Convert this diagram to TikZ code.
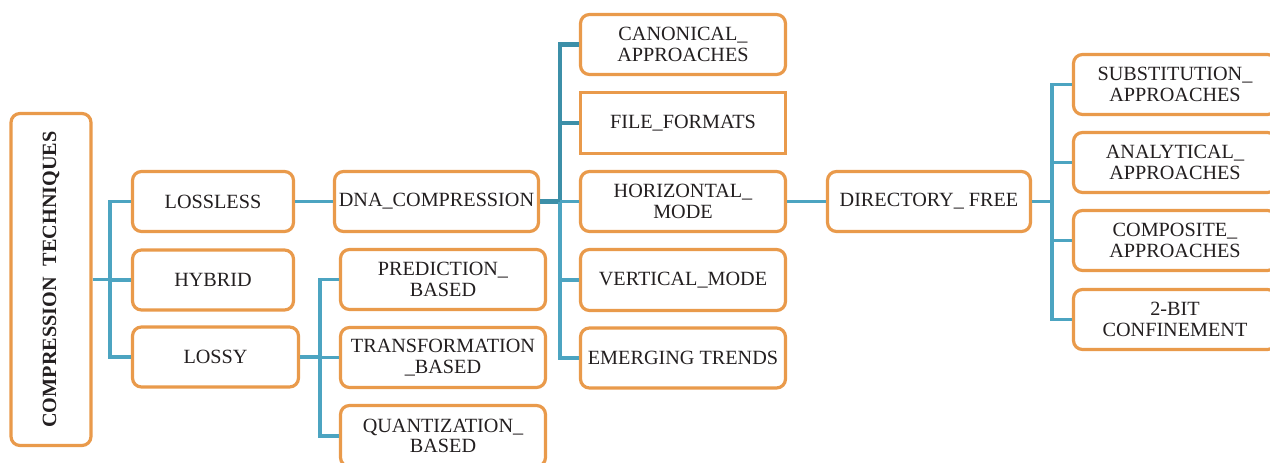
\documentclass[tikz,border=0pt]{standalone}
\usepackage{fontspec}
\setmainfont{Liberation Serif}
\definecolor{boxorange}{RGB}{233,154,75}
\definecolor{connblue}{RGB}{76,164,193}
\definecolor{conndark}{RGB}{60,143,168}
\definecolor{textgray}{RGB}{35,31,32}
\tikzset{
  box/.style={draw=boxorange, line width=3.2pt, rounded corners=9pt, fill=white,
    align=center, font=\fontsize{20.2}{20.5}\selectfont, text=textgray, inner sep=0pt},
  sqbox/.style={box, sharp corners},
  conn/.style={draw=connblue, line width=3.3pt},
  connd/.style={draw=conndark, line width=4.4pt},
}
\begin{document}
\begin{tikzpicture}[x=1pt,y=-1pt]
\useasboundingbox (0,0) rectangle (1270,463);
\coordinate (j1) at (110,280);
\coordinate (j2) at (320,357);
\coordinate (j3) at (560,201.5);
\coordinate (j4) at (1052,201.5);
% nodes
\node[box, rotate=90, minimum width=332pt, minimum height=80pt, font=\fontsize{20.2}{20.5}\selectfont\bfseries] (comp) at (51,279.5) {COMPRESSION\hspace{0.55em}TECHNIQUES};
\node[box, minimum width=161pt, minimum height=60pt] (lossless) at (213,201.5) {LOSSLESS};
\node[box, minimum width=161pt, minimum height=60pt] (hybrid) at (213,280) {HYBRID};
\node[box, minimum width=166pt, minimum height=60pt] (lossy) at (215.5,357) {LOSSY};
\node[box, minimum width=204pt, minimum height=60pt] (dna) at (436.5,201.5) {DNA\_COMPRESSION};
\node[box, minimum width=205pt, minimum height=60pt] (pred) at (443,279.5) {PREDICTION\_\\BASED};
\node[box, minimum width=205pt, minimum height=60pt] (trans) at (443,357.5) {TRANSFORMATION\\\_BASED};
\node[box, minimum width=205pt, minimum height=61pt] (quant) at (443,436) {QUANTIZATION\_\\BASED};
\node[box, minimum width=205pt, minimum height=60pt] (canon) at (683,44.5) {CANONICAL\_\\APPROACHES};
\node[sqbox, minimum width=205pt, minimum height=61pt] (files) at (683,123) {FILE\_FORMATS};
\node[box, minimum width=205pt, minimum height=60pt] (horiz) at (683,201.5) {HORIZONTAL\_\\MODE};
\node[box, minimum width=205pt, minimum height=61pt] (vert) at (683,280) {VERTICAL\_MODE};
\node[box, minimum width=205pt, minimum height=60pt] (emerg) at (683,358) {EMERGING TRENDS};
\node[box, minimum width=203pt, minimum height=60pt] (dir) at (929,201.5) {DIRECTORY\_ FREE};
\node[box, minimum width=203pt, minimum height=60pt] (subst) at (1175,84.5) {SUBSTITUTION\_\\APPROACHES};
\node[box, minimum width=203pt, minimum height=60pt] (analyt) at (1175,162.5) {ANALYTICAL\_\\APPROACHES};
\node[box, minimum width=203pt, minimum height=60pt] (compos) at (1175,240.5) {COMPOSITE\_\\APPROACHES};
\node[box, minimum width=203pt, minimum height=60pt] (bit) at (1175,319.5) {2-BIT\\CONFINEMENT};
% connectors
\draw[conn] (comp.south) -- (comp.south -| j1);
\draw[conn] (lossless.west) -| (j1) |- (lossy.west);
\draw[conn] (hybrid.west) -- (hybrid.west -| j1);
\draw[conn] (lossless) -- (dna);
\draw[conn] (lossy.east) -- (lossy.east -| j2);
\draw[conn] (pred.west) -| (j2) |- (quant.west);
\draw[conn] (trans.west) -- (trans.west -| j2);
\draw[connd] (dna.east) -- (j3);
\draw[connd] (canon.west) -| (j3);
\draw[connd] (files.west) -- (files.west -| j3);
\draw[conn] (j3) -- (horiz.west);
\draw[conn] (j3) |- (emerg.west);
\draw[conn] (vert.west) -- (vert.west -| j3);
\draw[conn] (horiz) -- (dir);
\draw[conn] (dir.east) -- (j4);
\draw[conn] (subst.west) -| (j4) |- (bit.west);
\draw[conn] (analyt.west) -- (analyt.west -| j4);
\draw[conn] (compos.west) -- (compos.west -| j4);
\end{tikzpicture}
\end{document}
